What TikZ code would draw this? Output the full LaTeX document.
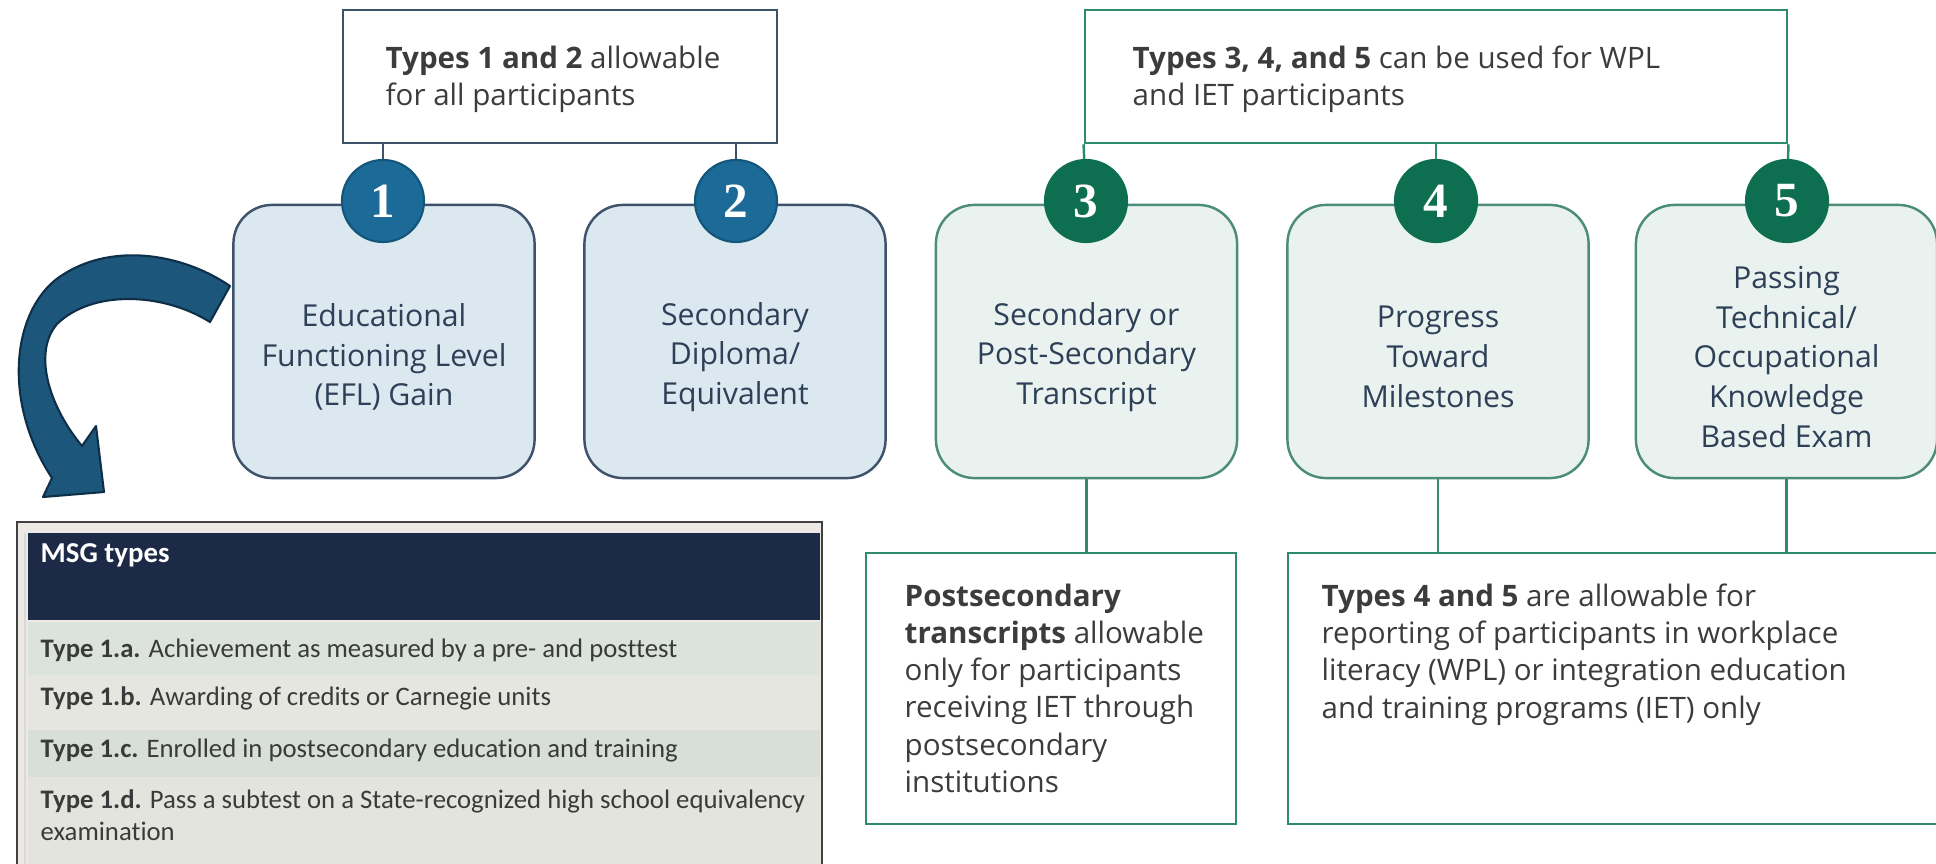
\documentclass[tikz,border=0pt]{standalone}
\usepackage{fontspec}
\setmainfont{Open Sans}
\newfontfamily\tablefont[Ligatures={NoCommon,NoRare,NoDiscretionary}]{Carlito}
\newfontfamily\numfont{Liberation Serif}
\definecolor{bluecirc}{HTML}{1B6A97}
\definecolor{bluecircedge}{HTML}{14557A}
\definecolor{bluefill}{HTML}{DCE8F0}
\definecolor{blueedge}{HTML}{3E536B}
\definecolor{greencirc}{HTML}{0E6E50}
\definecolor{greenfill}{HTML}{E9F2EF}
\definecolor{greenedge}{HTML}{4C8C7A}
\definecolor{greenline}{HTML}{2E8B70}
\definecolor{boxtext}{HTML}{2D4057}
\definecolor{graytext}{HTML}{3C3C3C}
\definecolor{navy}{HTML}{1C2A47}
\definecolor{arrowfill}{HTML}{1C577B}
\definecolor{arrowedge}{HTML}{0E2F47}
\definecolor{rowa}{HTML}{DBE3DC}
\definecolor{rowb}{HTML}{E5E6E0}
\definecolor{rowc}{HTML}{D8DFD9}
\definecolor{rowd}{HTML}{E3E4DE}
\definecolor{tabstrip}{HTML}{ECE9E5}
\definecolor{tabtext}{HTML}{3A3A3A}
\tikzset{
  card/.style={rounded corners=11pt, minimum width=3.01cm, minimum height=2.73cm, line width=0.7pt},
  bluecard/.style={card, draw=blueedge, fill=bluefill},
  greencard/.style={card, draw=greenedge, fill=greenfill},
  num/.style={circle, minimum size=0.82cm, inner sep=0pt, text=white, line width=0.6pt,
    font=\numfont\bfseries\fontsize{14}{14}\selectfont},
  bluenum/.style={num, fill=bluecirc, draw=bluecircedge},
  greennum/.style={num, fill=greencirc, draw=greencirc},
  cardtext/.style={align=center, text=boxtext, font=\fontsize{8.6}{11.3}\selectfont},
  notetext/.style={align=left, text=graytext, inner sep=0pt, anchor=north west,
    font=\fontsize{8.4}{10.6}\selectfont},
  rowtext/.style={anchor=base west, inner sep=0pt, text=tabtext, font=\tablefont\fontsize{7.6}{9}\selectfont},
}
\begin{document}
\begin{tikzpicture}[x=0.01cm, y=-0.01cm]
\useasboundingbox (0,0) rectangle (1936,864);
\clip (0,0) rectangle (1936,864);

% top boxes
\node[draw=blueedge, line width=0.7pt, minimum width=4.34cm, minimum height=1.33cm, inner sep=0pt] (topA) at (560,76.5) {};
\node[notetext] (topAtext) at (385,45) {\textbf{Types 1 and 2} allowable\\for all participants};
\node[draw=greenline, line width=0.7pt, minimum width=7.02cm, minimum height=1.33cm, inner sep=0pt] (topB) at (1436,76.5) {};
\node[notetext] (topBtext) at (1132,45) {\textbf{Types 3, 4, and 5} can be used for WPL\\and IET participants};

% cards
\node[bluecard] (b1) at (384,341.5) {};
\node[bluecard] (b2) at (735,341.5) {};
\node[greencard] (b3) at (1086.5,341.5) {};
\node[greencard] (b4) at (1438,341.5) {};
\node[greencard] (b5) at (1786.5,341.5) {};

\node[cardtext] (t1) at (384,357) {Educational\\Functioning Level\\(EFL) Gain};
\node[cardtext] (t2) at (735,357) {Secondary\\Diploma/\\Equivalent};
\node[cardtext] (t3) at (1086.5,357) {Secondary or\\Post-Secondary\\Transcript};
\node[cardtext] (t4) at (1438,357) {Progress\\Toward\\Milestones};
\node[cardtext] (t5) at (1786.5,357) {Passing\\Technical/\\Occupational\\Knowledge\\Based Exam};

% circles
\coordinate (p1) at (383,201);
\coordinate (p2) at (736,201);
\coordinate (p3) at (1086,201);
\coordinate (p4) at (1436,201);
\coordinate (p5) at (1787,201);
\draw[blueedge, line width=0.7pt] (topA.south -| p1) -- (p1);
\draw[blueedge, line width=0.7pt] (topA.south -| p2) -- (p2);
\draw[greenline, line width=0.7pt] (topB.south west) -- (p3);
\draw[greenline, line width=0.7pt] (topB.south -| p4) -- (p4);
\draw[greenline, line width=0.7pt] (topB.south east) -- (p5);
\node[bluenum] (c1) at (p1) {1};
\node[bluenum] (c2) at (p2) {2};
\node[greennum] (c3) at (p3) {3};
\node[greennum] (c4) at (p4) {4};
\node[greennum] (c5) at (p5) {5};

% bottom notes
\node[draw=greenline, line width=0.7pt, minimum width=3.70cm, minimum height=2.71cm, inner sep=0pt] (nA) at (1051,688.5) {};
\node[draw=greenline, line width=0.7pt, minimum width=6.70cm, minimum height=2.71cm, inner sep=0pt] (nB) at (1623,688.5) {};
\draw[greenline, line width=0.7pt] (b3.south) -- (b3.south |- nA.north);
\draw[greenline, line width=0.7pt] (b4.south) -- (b4.south |- nB.north);
\draw[greenline, line width=0.7pt] (b5.south) -- (b5.south |- nB.north);
\node[notetext] (nAtext) at (904,583) {\textbf{Postsecondary}\\\textbf{transcripts} allowable\\only for participants\\receiving IET through\\postsecondary\\institutions};
\node[notetext] (nBtext) at (1321,583) {\textbf{Types 4 and 5} are allowable for\\reporting of participants in workplace\\literacy (WPL) or integration education\\and training programs (IET) only};

% curved arrow
\draw[fill=arrowfill, draw=arrowedge, line width=0.6pt, line join=round]
  (230,286) .. controls (180,252) and (108,242) .. (58,278)
  .. controls (12,312) and (2,402) .. (52,478)
  -- (43,497) -- (104,492) -- (96,426) -- (82,446)
  .. controls (48,405) and (33,352) .. (57,324)
  .. controls (92,290) and (162,292) .. (210,322) -- cycle;

% table image
\fill[tabstrip] (17,522) rectangle (822,870);
\fill[navy] (28,533) rectangle (820,620);
\fill[rowa] (28,622) rectangle (820,675);
\fill[rowb] (28,675) rectangle (820,730);
\fill[rowc] (28,730) rectangle (820,777);
\fill[rowd] (28,777) rectangle (820,870);
\draw[white!70!gray, line width=0.6pt] (25,533) -- (25,870);
\draw[black!75, line width=0.8pt] (17,870) -- (17,522) -- (822,522) -- (822,870);
\node[anchor=base west, inner sep=0pt, text=white, font=\tablefont\bfseries\fontsize{8.2}{9}\selectfont] (hdr) at (40,563) {MSG types};
\node[rowtext] (ra) at (40,657) {\textbf{Type 1.a.} Achievement as measured by a pre- and posttest};
\node[rowtext] (rb) at (40,705) {\textbf{Type 1.b.} Awarding of credits or Carnegie units};
\node[rowtext] (rc) at (40,757) {\textbf{Type 1.c.} Enrolled in postsecondary education and training};
\node[rowtext] (rd) at (40,808) {\textbf{Type 1.d.} Pass a subtest on a State-recognized high school equivalency};
\node[rowtext] (rd2) at (40,840) {examination};
\end{tikzpicture}
\end{document}
